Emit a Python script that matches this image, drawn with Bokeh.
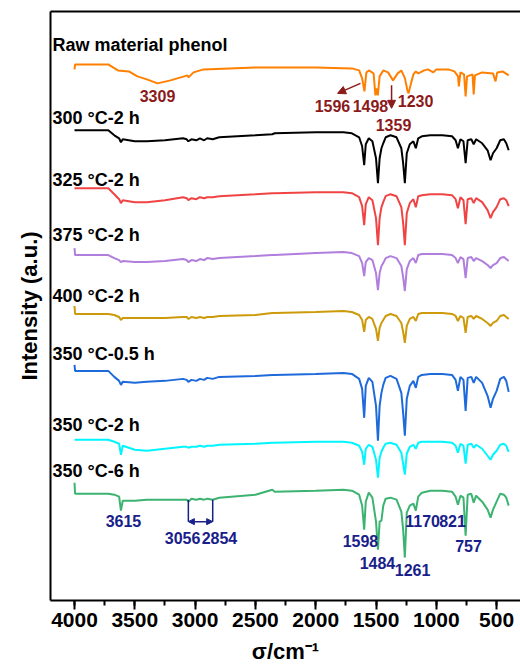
from bokeh.plotting import figure
from bokeh.models import (Range1d, LinearAxis, FixedTicker, SingleIntervalTicker, Label,
                          Arrow, NormalHead)
from bokeh.embed import file_html
from bokeh.resources import INLINE

# ---------------- data ----------------
# raw material phenol (own grid), relative intensity (a.u.)
raw_wn = [4000, 3995, 3720, 3680, 3640, 3550, 3478, 3400, 3312, 3204, 3063, 3055, 3013, 2930, 2500,
          2000, 1700, 1640, 1615, 1596, 1580, 1560, 1520, 1505, 1495, 1485, 1470, 1440, 1400, 1359,
          1320, 1290, 1260, 1240, 1230, 1210, 1190, 1170, 1150, 1100, 1070, 1025, 1000, 900, 850,
          820, 813, 800, 770, 757, 745, 700, 690, 680, 620, 530, 509, 495, 450, 400]
raw_val = [-5, 0, 0, -3, -6, -7, -12, -15, -19, -16, -11, -13, -8, -5, -3,
           -3, -4, -6, -14, -27, -8, -6, -9, -31, -24, -31, -12, -6, -8, -16,
           -9, -6, -14, -26, -29, -19, -10, -7, -9, -6, -5, -8, -5, -5, -7,
           -12, -22, -8, -10, -32, -12, -10, -30, -11, -8, -9, -17, -8, -7, -11]

# treated samples, common grid
wn = [4000, 3995, 3720, 3670, 3630, 3615, 3600, 3500, 3400, 3250, 3100, 3070, 3056, 3030, 2990,
      2960, 2925, 2900, 2854, 2800, 2500, 2360, 2340, 2000, 1770, 1700, 1640, 1615, 1598, 1585,
      1560, 1530, 1500, 1484, 1470, 1455, 1440, 1420, 1380, 1330, 1290, 1275, 1261, 1245, 1220,
      1190, 1170, 1150, 1120, 1050, 950, 870, 840, 821, 800, 775, 757, 740, 710, 690,
      670, 620, 575, 550, 530, 500, 470, 440, 420, 400]

s300_2h = [0, 0, 0, -5, -8, -12, -9, -11, -11, -10, -8, -9, -11, -9, -10,
           -8, -10, -8, -9, -7, -5, -4, -3, -2, -2, -3, -7, -16, -35, -14,
           -8, -11, -28, -53, -28, -18, -13, -7, -5, -7, -18, -33, -53, -23, -14,
           -11, -18, -8, -6, -5, -5, -6, -10, -18, -9, -11, -33, -10, -9, -14,
           -9, -13, -20, -30, -23, -18, -10, -9, -13, -20]
s325_2h = [0, 0, 0, -6, -11, -15, -12, -14, -14, -12, -9, -10, -12, -10, -11,
           -9, -10, -9, -9, -8, -6, -5, -5, -4, -4, -5, -9, -18, -37, -16,
           -9, -12, -30, -57, -30, -19, -14, -8, -6, -8, -19, -35, -57, -25, -15,
           -11, -19, -8, -7, -6, -6, -7, -11, -20, -9, -12, -36, -11, -10, -15,
           -10, -14, -22, -30, -24, -19, -11, -10, -12, -18]
s375_2h = [7, 0, 0, -3, -5, -7, -6, -7, -7, -6, -4, -5, -7, -5, -6,
           -4, -5, -3, -4, -3, -1, 0, 0, 2, 3, 2, -1, -8, -21, -7,
           -3, -5, -18, -35, -18, -11, -8, -3, -1, -3, -11, -22, -36, -14, -6,
           -3, -8, 0, 1, 1, 1, 0, -3, -8, -2, -4, -23, -3, -2, -6,
           -3, -6, -10, -13, -10, -8, -3, -2, -4, -6]
s400_2h = [8, 0, 0, -1, -3, -6, -4, -4, -4, -4, -3, -3, -5, -3, -4,
           -3, -4, -3, -3, -2, -1, 1, 1, 2, 3, 2, -1, -6, -18, -6,
           -3, -5, -15, -27, -14, -9, -6, -2, 0, -2, -9, -18, -29, -12, -5,
           -3, -7, 0, 1, 1, 1, 0, -2, -7, -2, -4, -19, -3, -2, -5,
           -2, -5, -9, -12, -9, -7, -2, -1, -3, -5]
s350_05h = [6, 0, 0, -6, -10, -14, -11, -12, -11, -10, -8, -9, -11, -9, -10,
            -8, -9, -7, -8, -6, -5, -4, -4, -3, -2, -3, -8, -18, -47, -15,
            -7, -11, -35, -70, -35, -22, -14, -7, -5, -8, -22, -42, -65, -28, -15,
            -10, -17, -6, -4, -3, -3, -4, -9, -20, -6, -9, -40, -7, -6, -12,
            -6, -12, -25, -37, -28, -20, -8, -6, -10, -21]
s350_2h = [0, 0, 0, -2, -4, -15, -6, -10, -11, -9, -7, -7, -8, -7, -7,
           -6, -7, -6, -6, -5, -4, -3, -3, -2, -2, -3, -6, -12, -25, -9,
           -5, -7, -20, -38, -18, -12, -8, -4, -3, -5, -13, -24, -35, -14, -7,
           -5, -9, -3, -2, -2, -2, -3, -6, -13, -4, -6, -24, -5, -4, -8,
           -5, -9, -16, -20, -15, -11, -5, -4, -6, -12]
s350_6h = [11, 0, 0, -1, -3, -17, -7, -7, -6, -6, -6, -6, -8, -5, -6,
           -5, -6, -5, -6, -4, -1, 4, 2, 3, 4, 3, -1, -12, -36, -8,
           1, -4, -28, -56, -28, -27, -12, -5, -4, -6, -18, -36, -64, -19, -12,
           -10, -17, -3, 1, 3, 3, 2, -3, -11, -2, -4, -42, -1, 0, -9,
           -2, -8, -16, -24, -16, -8, 0, -1, -4, -12]

names = ["Raw material phenol", "300 \u00b0C-2 h", "325 \u00b0C-2 h", "375 \u00b0C-2 h",
         "400 \u00b0C-2 h", "350 \u00b0C-0.5 h", "350 \u00b0C-2 h", "350 \u00b0C-6 h"]
series = [raw_val, s300_2h, s325_2h, s375_2h, s400_2h, s350_05h, s350_2h, s350_6h]
grids = [raw_wn, wn, wn, wn, wn, wn, wn, wn]
offsets = [537, 471, 413, 346, 287, 230, 161, 107]
label_y = [556, 483, 421, 366, 305, 247, 176, 130]
colors = ["#FF8000", "#000000", "#F04444", "#B07EDC", "#CC9A0A", "#1E6ADB", "#00F5FF", "#3CB371"]

raw_peaks = ["3309", "1596", "1498", "1230", "1359"]
raw_peak_x = [3312, 1861, 1546, 1172, 1355]
raw_peak_y = [505, 495, 495, 500, 476]
prod_peaks = ["3615", "3056", "2854", "1598", "1484", "1261", "1170", "821", "757"]
prod_peak_x = [3594, 3104, 2798, 1629, 1488, 1197, 1114, 866, 733]
prod_peak_y = [80, 63, 63, 60, 38, 31, 80, 80, 55]

DARKRED = "#8B1A1A"
NAVY = "#18208A"
FONT = "Liberation Sans"

p = figure(width=520, height=666, output_backend="svg", toolbar_location=None,
           x_range=Range1d(4199, 302), y_range=Range1d(0, 590),
           min_border_left=50, min_border_right=0, min_border_top=11, min_border_bottom=63,
           x_axis_location=None, y_axis_location=None)
p.outline_line_color = None
p.xgrid.visible = False
p.ygrid.visible = False
p.background_fill_color = "white"
p.border_fill_color = "white"

for g, s, off, c in zip(grids, series, offsets, colors):
    p.line([float(v) for v in g], [off + v for v in s], line_color=c, line_width=2)

for n, ly in zip(names, label_y):
    p.add_layout(Label(x=4182, y=ly, text=n, text_font=FONT, text_font_style="bold",
                       text_font_size="18px", text_color="black", text_align="left",
                       text_baseline="middle"))

for t, x, y in zip(raw_peaks, raw_peak_x, raw_peak_y):
    p.add_layout(Label(x=x, y=y, text=t, text_font=FONT, text_font_style="bold",
                       text_font_size="16px", text_color=DARKRED, text_align="center",
                       text_baseline="middle"))
for t, x, y in zip(prod_peaks, prod_peak_x, prod_peak_y):
    p.add_layout(Label(x=x, y=y, text=t, text_font=FONT, text_font_style="bold",
                       text_font_size="16px", text_color=NAVY, text_align="center",
                       text_baseline="middle"))

# arrows (raw phenol)
p.add_layout(Arrow(x_start=1629, y_start=518, x_end=1819, y_end=508, line_color=DARKRED,
                   line_width=1.5, end=NormalHead(size=8, fill_color=DARKRED, line_color=DARKRED)))
p.add_layout(Arrow(x_start=1371, y_start=516, x_end=1371, y_end=493, line_color=DARKRED,
                   line_width=1.5, end=NormalHead(size=8, fill_color=DARKRED, line_color=DARKRED)))
# 3056-2854 bracket
p.segment(x0=[3056, 2854], y0=[101, 101], x1=[3056, 2854], y1=[79, 79], line_color=NAVY, line_width=1.5)
p.add_layout(Arrow(x_start=3056, y_start=79, x_end=2854, y_end=79, line_color=NAVY, line_width=1.5,
                   start=NormalHead(size=6, fill_color=NAVY, line_color=NAVY),
                   end=NormalHead(size=6, fill_color=NAVY, line_color=NAVY)))

xaxis = LinearAxis(ticker=SingleIntervalTicker(interval=500, num_minor_ticks=2),
                   axis_label="\u03c3/cm\u207b\u00b9")
xaxis.axis_line_width = 2
xaxis.major_tick_line_width = 2
xaxis.minor_tick_line_width = 2
xaxis.major_tick_out = 9
xaxis.major_tick_in = 0
xaxis.minor_tick_out = 5
xaxis.minor_tick_in = 0
xaxis.major_label_standoff = 3
xaxis.major_label_text_font = FONT
xaxis.major_label_text_font_style = "bold"
xaxis.major_label_text_font_size = "21px"
xaxis.major_label_text_color = "black"
xaxis.axis_label_standoff = 9
xaxis.axis_label_text_font = FONT
xaxis.axis_label_text_font_style = "bold"
xaxis.axis_label_text_font_size = "22px"
xaxis.axis_label_text_color = "black"
p.add_layout(xaxis, "below")

yaxis = LinearAxis(ticker=FixedTicker(ticks=[]), axis_label="Intensity (a.u.)")
yaxis.axis_line_width = 2
yaxis.major_tick_out = 0
yaxis.minor_tick_out = 0
yaxis.major_label_text_font_size = "0px"
yaxis.axis_label_standoff = 9
yaxis.axis_label_text_font = FONT
yaxis.axis_label_text_font_style = "bold"
yaxis.axis_label_text_font_size = "22px"
yaxis.axis_label_text_color = "black"
p.add_layout(yaxis, "left")

top = LinearAxis(ticker=FixedTicker(ticks=[]))
top.axis_line_width = 2
top.major_tick_out = 0
top.minor_tick_out = 0
top.major_label_text_font_size = "0px"
p.add_layout(top, "above")

open("out.html", "w").write(file_html(p, INLINE))
